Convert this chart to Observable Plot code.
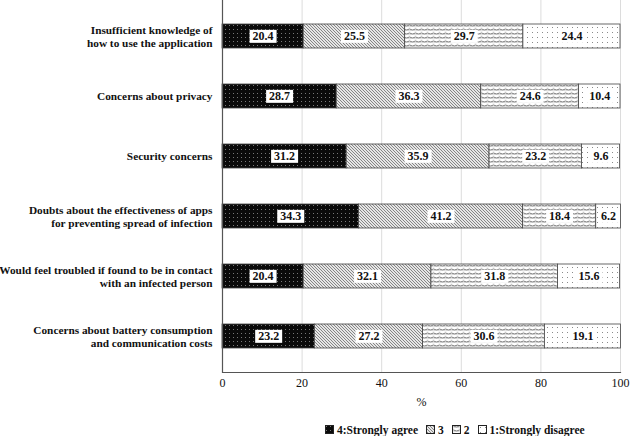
<!DOCTYPE html>
<html>
<head>
<meta charset="utf-8">
<script src="https://cdn.jsdelivr.net/npm/d3@7"></script>
<script src="https://cdn.jsdelivr.net/npm/@observablehq/plot@0.6"></script>
<style>
  body { margin: 0; background: #fff; font-family: 'Liberation Serif', 'Times New Roman', serif; }
  #chart svg { display: block; }
  .legend { display: flex; align-items: center; margin-left: 325px; margin-top: 11px; font-family: 'Liberation Serif', 'Times New Roman', serif; font-weight: bold; font-size: 11.5px; color: #111; }
  .legend span.item { display: inline-flex; align-items: center; margin-right: 8px; }
  .legend svg { margin-right: 2px; }
</style>
</head>
<body>
<div id="chart"></div>
<script>
const items = [
  "Insufficient knowledge of\nhow to use the application",
  "Concerns about privacy",
  "Security concerns",
  "Doubts about the effectiveness of apps\nfor preventing spread of infection",
  "Would feel troubled if found to be in contact\nwith an infected person",
  "Concerns about battery consumption\nand communication costs"
];
const levels = ["4:Strongly agree", "3", "2", "1:Strongly disagree"];
const agree4 = [20.4, 28.7, 31.2, 34.3, 20.4, 23.2];
const agree3 = [25.5, 36.3, 35.9, 41.2, 32.1, 27.2];
const agree2 = [29.7, 24.6, 23.2, 18.4, 31.8, 30.6];
const agree1 = [24.4, 10.4, 9.6, 6.2, 15.6, 19.1];
const xTicks = [0, 20, 40, 60, 80, 100];
const xLabel = "%";

const series = [agree4, agree3, agree2, agree1];
const data = [];
items.forEach((item, i) => {
  levels.forEach((lv, j) => data.push({item, level: lv, value: series[j][i]}));
});

const FONT = "'Liberation Serif', 'Times New Roman', serif";
const patternIds = ["p4", "p3", "p2", "p1"];
const defsMarkup = `
  <pattern id="p4" width="4" height="4" patternUnits="userSpaceOnUse">
    <rect width="4" height="4" fill="#0a0a0a"/>
    <rect x="1" y="1" width="1" height="1" fill="#777"/>
  </pattern>
  <pattern id="p3" width="3" height="3" patternUnits="userSpaceOnUse">
    <rect width="3" height="3" fill="#e6e6e6"/>
    <path d="M-1,-1 L4,4 M-1,2 L1,4 M2,-1 L4,1" stroke="#7a7a7a" stroke-width="0.9"/>
  </pattern>
  <pattern id="p2" width="6" height="4" patternUnits="userSpaceOnUse">
    <rect width="6" height="4" fill="#fff"/>
    <path d="M0,1.5 Q1.5,0.5 3,1.5 T6,1.5" fill="none" stroke="#6e6e6e" stroke-width="0.9"/>
    <path d="M0,2.5 Q1.5,3.3 3,2.5 T6,2.5" fill="none" stroke="#b0b0b0" stroke-width="0.6"/>
  </pattern>
  <pattern id="p1" width="5" height="5" patternUnits="userSpaceOnUse">
    <rect width="5" height="5" fill="#fff"/>
    <rect x="2" y="2" width="1" height="1" fill="#8a8a8a"/>
  </pattern>`;

const chart = Plot.plot({
  width: 631,
  height: 413,
  marginLeft: 222,
  marginRight: 11,
  marginTop: 0,
  marginBottom: 41,
  style: {fontSize: "12px", color: "#111", background: "#fff"},
  x: {domain: [0, 100]},
  y: {domain: items, paddingInner: 0.6, paddingOuter: 0.35},
  color: {type: "ordinal", domain: levels, range: patternIds.map(id => `url(#${id})`)},
  marks: [
    Plot.gridX(xTicks, {stroke: "#dcdcdc", strokeOpacity: 1}),
    Plot.axisX({ticks: xTicks, tickSize: 0, tickPadding: 6, label: null, fontSize: 12, fill: "#111"}),
    Plot.axisY({tickSize: 0, tickPadding: 10, label: null, fontWeight: "bold", fontSize: 11.3, lineHeight: 1.1, fill: "#111"}),
    Plot.text([xLabel], {text: d => d, frameAnchor: "bottom", dy: 33, fontSize: 12, fill: "#111"}),
    Plot.barX(data, Plot.stackX({x: "value", y: "item", fill: "level", order: levels, stroke: "#444", strokeWidth: 0.8})),
    Plot.frame({anchor: "bottom", stroke: "#555", strokeWidth: 1.2}),
    Plot.ruleX([0], {stroke: "#555", strokeWidth: 1.2}),
    Plot.text(data, Plot.stackX({x: "value", y: "item", z: "level", order: levels, text: d => d.value.toFixed(1), fill: "#111", fontWeight: "bold", fontSize: 12, className: "seglabel"}))
  ]
});

chart.setAttribute("font-family", FONT);
chart.style.fontFamily = FONT;
chart.querySelectorAll("text, g").forEach(t => { if (t.hasAttribute("font-family")) t.setAttribute("font-family", FONT); });

const defs = document.createElementNS("http://www.w3.org/2000/svg", "defs");
defs.innerHTML = defsMarkup;
chart.insertBefore(defs, chart.firstChild);
document.getElementById("chart").appendChild(chart);

// white boxes behind segment labels
const lab = chart.querySelector("g.seglabel");
if (lab) {
  lab.querySelectorAll("text").forEach(t => {
    const b = t.getBBox();
    const r = document.createElementNS("http://www.w3.org/2000/svg", "rect");
    r.setAttribute("x", b.x - 3);
    r.setAttribute("y", b.y + 0.5);
    r.setAttribute("width", b.width + 6);
    r.setAttribute("height", b.height - 1);
    r.setAttribute("fill", "#fff");
    const tr = t.getAttribute("transform");
    if (tr) r.setAttribute("transform", tr);
    t.parentNode.insertBefore(r, t);
  });
}

// legend
const legend = document.createElement("div");
legend.className = "legend";
levels.forEach((lv, j) => {
  const s = document.createElement("span");
  s.className = "item";
  s.innerHTML = `<svg width="10" height="10"><defs>${defsMarkup.replace(/id="(p\d)"/g, 'id="L$1"')}</defs><rect x="0.5" y="0.5" width="8" height="8" fill="url(#L${patternIds[j]})" stroke="#222" stroke-width="1"/></svg>${lv}`;
  legend.appendChild(s);
});
document.body.appendChild(legend);
</script>
</body>
</html>
